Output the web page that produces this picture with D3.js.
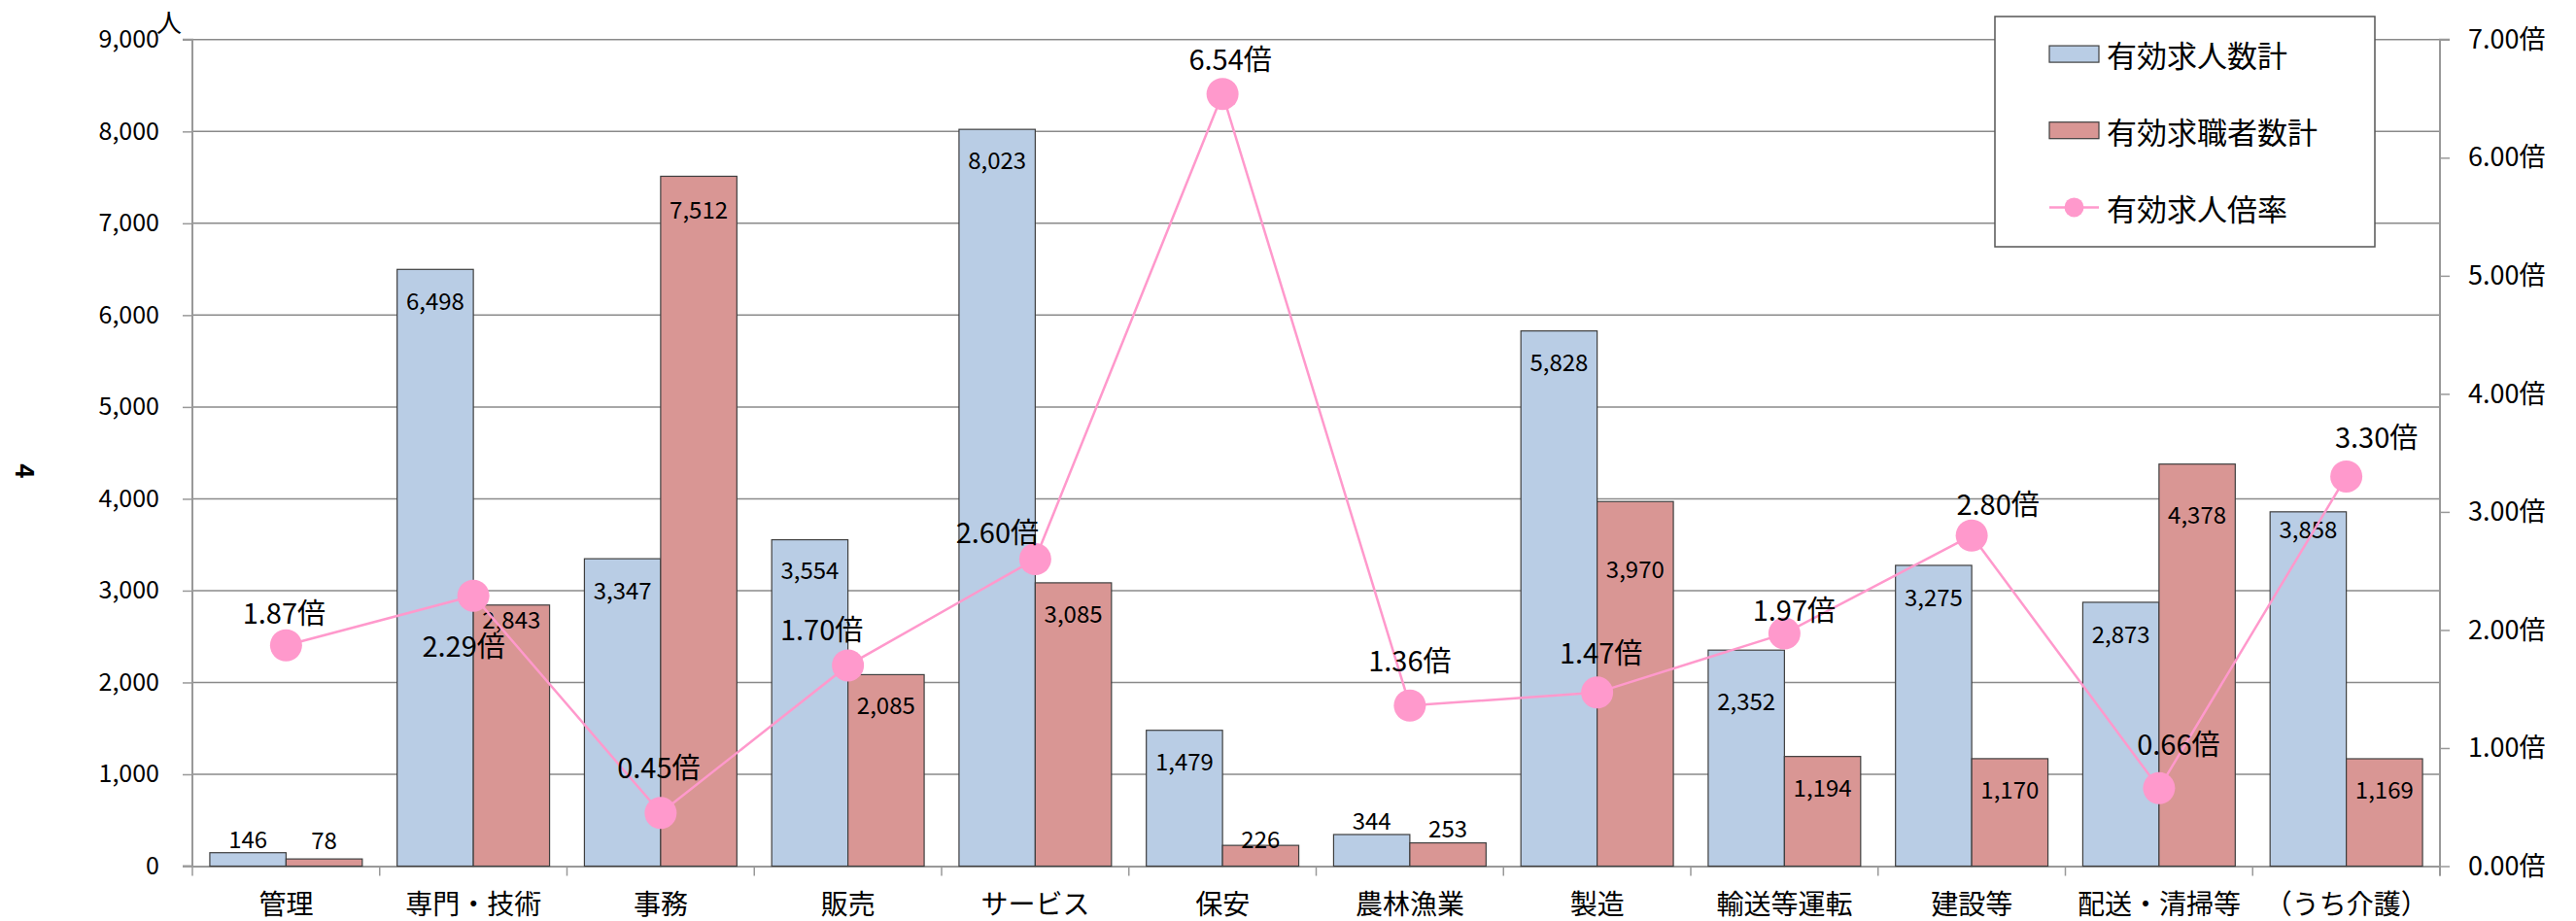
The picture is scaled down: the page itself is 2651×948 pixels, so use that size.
<!DOCTYPE html>
<html><head><meta charset="utf-8">
<script src="https://cdn.jsdelivr.net/npm/d3@7"></script>
<style>
html,body{margin:0;padding:0;background:#fff;}
text{font-family:"Noto Sans CJK JP","Noto Sans",sans-serif;fill:#000;}
</style></head>
<body>
<svg id="chart" width="2651" height="948"></svg>
<script>
// ---- data ----
const categories = ['管理','専門・技術','事務','販売','サービス','保安','農林漁業','製造','輸送等運転','建設等','配送・清掃等','（うち介護）'];
const jobOffers = [146,6498,3347,3554,8023,1479,344,5828,2352,3275,2873,3858];
const jobSeekers = [78,2843,7512,2085,3085,226,253,3970,1194,1170,4378,1169];
const ratio = [1.87,2.29,0.45,1.70,2.60,6.54,1.36,1.47,1.97,2.80,0.66,3.30];
const leftTicks = [0,1000,2000,3000,4000,5000,6000,7000,8000,9000];
const rightTicks = [0,1,2,3,4,5,6,7];
const seriesNames = ['有効求人数計','有効求職者数計','有効求人倍率'];

// label placement (layout only)
const offerLabelDy = [-15,31,31,30,30,31,-15,31,51,32,32,17];
const seekerLabelDy = [-21,14,33,30,31,-8,-16,68,31,31,51,30];
const ratioLabelDx = [-2,-10,-2,-27,-39,8,0,4,10,27,20,31];
const ratioLabelDy = [-35,50,-49,-39,-30,-38,-48,-43,-26,-34,-47,-42];

const svg = d3.select('#chart');
const L = 198, R = 2511, T = 40.8, B = 891.5;
const x = d3.scaleBand().domain(categories).range([L, R]).padding(0);
const yL = d3.scaleLinear().domain([0, 9000]).range([B, T]);
const yR = d3.scaleLinear().domain([0, 7]).range([B, T]);
const bw = x.bandwidth() * 0.407;
const cx = c => x(c) + x.bandwidth() / 2;

const blue = '#B9CDE5', red = '#D99694', pink = '#FF99CC';
const gridC = '#8a8a8a';

// gridlines
svg.append('g').selectAll('line').data(leftTicks.filter(d => d > 0)).join('line')
  .attr('x1', L).attr('x2', R).attr('y1', d => yL(d)).attr('y2', d => yL(d))
  .attr('stroke', gridC).attr('stroke-width', 1.5);

// left axis
const gL = svg.append('g').attr('transform', `translate(${L},0)`)
  .call(d3.axisLeft(yL).tickValues(leftTicks).tickSize(10).tickPadding(24).tickFormat(d3.format(',')));
gL.select('.domain').attr('stroke', '#999').attr('stroke-width', 2).attr('d', `M-10,${B}H0V${T}H-10`);
gL.selectAll('.tick line').attr('stroke', '#999').attr('stroke-width', 1.5);
gL.selectAll('.tick text').attr('font-size', 25).attr('font-family', '"Noto Sans CJK JP",sans-serif').attr('fill', '#000');

// right axis
const gR = svg.append('g').attr('transform', `translate(${R},0)`)
  .call(d3.axisRight(yR).tickValues(rightTicks).tickSize(10).tickPadding(19).tickFormat(d => d3.format('.2f')(d) + '倍'));
gR.select('.domain').attr('stroke', '#999').attr('stroke-width', 2).attr('d', `M10,${T}H0V${B + 10}`);
gR.selectAll('.tick line').attr('stroke', '#999').attr('stroke-width', 1.5);
gR.selectAll('.tick text').attr('font-size', 27).attr('font-family', '"Noto Sans CJK JP",sans-serif').attr('fill', '#000');

// bottom axis
const gB = svg.append('g').attr('transform', `translate(0,${B})`)
  .call(d3.axisBottom(x).tickSize(0).tickPadding(33));
gB.select('.domain').attr('stroke', '#999').attr('stroke-width', 2);
gB.selectAll('.tick text').attr('font-size', 28).attr('font-family', '"Noto Sans CJK JP",sans-serif').attr('fill', '#000').attr('dy', '0.6em');
svg.append('g').selectAll('line').data(categories.concat(['__end'])).join('line')
  .attr('x1', (d, i) => i < categories.length ? x(d) : R)
  .attr('x2', (d, i) => i < categories.length ? x(d) : R)
  .attr('y1', B).attr('y2', B + 10).attr('stroke', '#999').attr('stroke-width', 1.5);

// bars
const bars = svg.append('g');
bars.selectAll('rect.o').data(jobOffers).join('rect').attr('class', 'o')
  .attr('x', (d, i) => cx(categories[i]) - bw).attr('width', bw)
  .attr('y', d => yL(d)).attr('height', d => B - yL(d))
  .attr('fill', blue).attr('stroke', '#3f3f3f').attr('stroke-width', 1.2);
bars.selectAll('rect.s').data(jobSeekers).join('rect').attr('class', 's')
  .attr('x', (d, i) => cx(categories[i])).attr('width', bw)
  .attr('y', d => yL(d)).attr('height', d => B - yL(d))
  .attr('fill', red).attr('stroke', '#3f3f3f').attr('stroke-width', 1.2);

// bar labels
const fmt = d3.format(',');
svg.append('g').selectAll('text').data(jobOffers).join('text')
  .attr('x', (d, i) => cx(categories[i]) - bw / 2)
  .attr('y', (d, i) => yL(d) + offerLabelDy[i])
  .attr('text-anchor', 'middle').attr('dominant-baseline', 'central')
  .attr('font-size', 24).text(d => fmt(d));
svg.append('g').selectAll('text').data(jobSeekers).join('text')
  .attr('x', (d, i) => cx(categories[i]) + bw / 2)
  .attr('y', (d, i) => yL(d) + seekerLabelDy[i])
  .attr('text-anchor', 'middle').attr('dominant-baseline', 'central')
  .attr('font-size', 24).text(d => fmt(d));

// ratio line
const line = d3.line().x((d, i) => cx(categories[i])).y(d => yR(d));
svg.append('path').datum(ratio).attr('d', line)
  .attr('fill', 'none').attr('stroke', pink).attr('stroke-width', 2.5);
svg.append('g').selectAll('circle').data(ratio).join('circle')
  .attr('cx', (d, i) => cx(categories[i])).attr('cy', d => yR(d)).attr('r', 16.5)
  .attr('fill', pink);
svg.append('g').selectAll('text').data(ratio).join('text')
  .attr('x', (d, i) => cx(categories[i]) + ratioLabelDx[i])
  .attr('y', (d, i) => yR(d) + ratioLabelDy[i])
  .attr('text-anchor', 'middle').attr('dominant-baseline', 'central')
  .attr('font-size', 29).text(d => d3.format('.2f')(d) + '倍');

// legend
const lg = svg.append('g');
lg.append('rect').attr('x', 2053).attr('y', 17).attr('width', 391).attr('height', 237)
  .attr('fill', '#fff').attr('stroke', '#555').attr('stroke-width', 1.5);
const rowsY = [55.6, 134.2, 213.4];
[blue, red].forEach((c, i) => {
  lg.append('rect').attr('x', 2109).attr('y', rowsY[i] - 8.5).attr('width', 51).attr('height', 17)
    .attr('fill', c).attr('stroke', '#3f3f3f').attr('stroke-width', 1.2);
});
lg.append('line').attr('x1', 2109).attr('x2', 2160).attr('y1', rowsY[2]).attr('y2', rowsY[2])
  .attr('stroke', pink).attr('stroke-width', 2.5);
lg.append('circle').attr('cx', 2134.5).attr('cy', rowsY[2]).attr('r', 10).attr('fill', pink);
lg.selectAll('text').data(seriesNames).join('text')
  .attr('x', 2168).attr('y', (d, i) => rowsY[i]).attr('dominant-baseline', 'central')
  .attr('font-size', 31).text(d => d);

// unit and page number
svg.append('text').attr('x', 174).attr('y', 21).attr('text-anchor', 'middle').attr('dominant-baseline', 'central')
  .attr('font-size', 26).text('人');
svg.append('text').attr('transform', 'translate(27,485) rotate(90)').attr('text-anchor', 'middle')
  .attr('dominant-baseline', 'central').attr('font-size', 26).attr('font-weight', 'bold').text('4');
</script>
</body></html>
